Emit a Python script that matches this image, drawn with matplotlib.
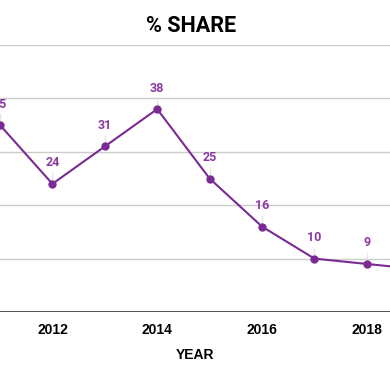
import matplotlib.pyplot as plt

years = [2011, 2012, 2013, 2014, 2015, 2016, 2017, 2018, 2019]
share = [35, 24, 31, 38, 25, 16, 10, 9, 8]
xticks = [2012, 2014, 2016, 2018]
yticks = [0, 10, 20, 30, 40, 50]

purple = "#7b2a94"
label_purple = "#8b3a9f"

fig = plt.figure(figsize=(3.9, 3.71), dpi=100)
# plot area runs past the left/right edges (cropped chart)
ax = fig.add_axes([0, 0.159, 1, 0.7197])
ax.set_xlim(2011, 2011 + 390 / 52.4)
ax.set_ylim(0, 50)

for y in yticks[1:]:
    ax.axhline(y, color="#cccccc", linewidth=1, zorder=1)
ax.axhline(0, color="#333333", linewidth=1.2, zorder=2)

ax.plot(years, share, color=purple, linewidth=1.5, marker="o",
        markersize=5, zorder=4)

for x, v in zip(years, share):
    ax.plot([x, x], [v + 0.6, v + 2.0], color="#e6e6e6", linewidth=1, zorder=3)
    ax.annotate(str(v), (x, v), xytext=(0, 10.5), textcoords="offset points",
                ha="center", va="bottom", color=label_purple,
                fontsize=9, fontweight="bold", family="Roboto", zorder=5)

for s in ax.spines.values():
    s.set_visible(False)
ax.set_yticks([])
ax.set_xticks(xticks)
ax.set_xticklabels([str(t) for t in xticks], fontsize=10, fontweight="bold",
                   family="Liberation Sans")
ax.tick_params(axis="x", length=0, pad=8)
ax.set_xlabel("YEAR", fontsize=10, fontweight="bold", family="Liberation Sans",
              labelpad=8)

fig.text(0.49, 0.93, "% SHARE", ha="center", va="center", fontsize=15.5,
         fontweight="bold", family="Roboto")

fig.savefig("out.png", dpi=100)
